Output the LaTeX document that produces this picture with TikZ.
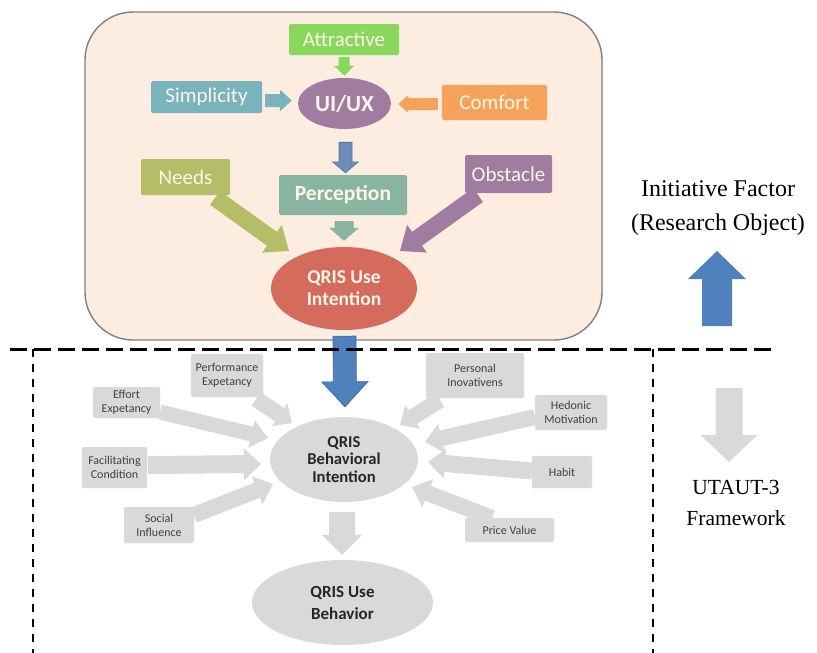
\documentclass[tikz,border=0pt]{standalone}
\usepackage{fontspec}
\setmainfont{Carlito}
\newfontfamily\labelserif{Liberation Serif}
\usetikzlibrary{calc,shapes.geometric}

\definecolor{panelfill}{HTML}{FDEDE1}
\definecolor{panelline}{HTML}{808080}
\definecolor{attrgreen}{HTML}{88D85B}
\definecolor{simpteal}{HTML}{79B3BC}
\definecolor{comforange}{HTML}{F7A25B}
\definecolor{uipurple}{HTML}{A07CA0}
\definecolor{steelarrow}{HTML}{6D8DB8}
\definecolor{percgreen}{HTML}{87B5A0}
\definecolor{needsolive}{HTML}{B4BE68}
\definecolor{intentred}{HTML}{D46B5C}
\definecolor{mainblue}{HTML}{4F81BD}
\definecolor{mainblueline}{HTML}{3F6E9F}
\definecolor{softgray}{HTML}{D9D9D9}
\definecolor{boxtext}{HTML}{FFF6E8}
\definecolor{graytext}{HTML}{404040}
\definecolor{darktext}{HTML}{262626}

% block arrow: from, tip, shaft half-width, head half-width, head length, style
\newcommand{\blockarrow}[6]{%
  \coordinate (ba-h) at ($(#2)!#5!(#1)$);
  \path[#6] ($(#1)!#3!90:(#2)$) -- ($(ba-h)!#3!90:(#2)$) -- ($(ba-h)!#4!90:(#2)$)
    -- (#2) -- ($(ba-h)!#4!-90:(#2)$) -- ($(ba-h)!#3!-90:(#2)$) -- ($(#1)!#3!-90:(#2)$) -- cycle;
}

\tikzset{
  factor/.style={rectangle, rounded corners=1.5pt, inner sep=0pt, text=boxtext,
    font=\fontsize{21}{24}\selectfont},
  core/.style={ellipse, inner sep=0pt, text=boxtext, align=center},
  utaut/.style={rectangle, rounded corners=2pt, fill=softgray, draw=softgray!70!white,
    inner sep=0pt, text=graytext, align=center, font=\fontsize{12}{14}\selectfont},
  utcore/.style={ellipse, fill=softgray, inner sep=0pt, text=darktext, align=center},
  grayarrow/.style={fill=softgray},
  sidelabel/.style={align=center, font=\labelserif, text=black},
}

\begin{document}
\begin{tikzpicture}[x=1pt,y=-1pt]
\useasboundingbox (0,0) rectangle (817,653);

% ---------- research object panel ----------
\node[draw=panelline, line width=1.4pt, fill=panelfill, rounded corners=48pt,
  minimum width=517pt, minimum height=328pt, inner sep=0pt] (panel) at (343.5,176) {};

\node[factor, fill=attrgreen, minimum width=110pt, minimum height=31pt] (attr) at (344,39.5) {Attractive};
\node[factor, fill=simpteal, minimum width=111pt, minimum height=32pt] (simp) at (206.5,97) {Simplicity};
\node[factor, fill=comforange, minimum width=105pt, minimum height=35pt] (comf) at (494.5,102.5) {Comfort};
\node[core, fill=uipurple, minimum width=93pt, minimum height=51pt,
  font=\bfseries\fontsize{23}{26}\selectfont] (uiux) at (344.5,103.5) {UI/UX};
\node[factor, fill=needsolive, minimum width=89pt, minimum height=36pt] (needs) at (185.5,177) {Needs};
\node[factor, fill=percgreen, minimum width=128pt, minimum height=40pt,
  font=\bfseries\fontsize{21.5}{24}\selectfont] (perc) at (343,195) {Perception};
\node[factor, fill=uipurple, minimum width=87pt, minimum height=38pt] (obst) at (508.5,174) {Obstacle};
\node[core, fill=intentred, minimum width=146pt, minimum height=83pt,
  font=\bfseries\fontsize{19.5}{22}\selectfont] (useint) at (344,288.5) {QRIS Use\\Intention};

% arrow ends
\coordinate (attr-s) at ($(attr.south)+(0,2)$);
\coordinate (uiux-n) at ($(uiux.north)+(0,-2)$);
\coordinate (simp-e) at ($(simp.east)+(3,3.5)$);
\coordinate (uiux-w) at ($(uiux.west)+(-6,-3)$);
\coordinate (comf-w) at ($(comf.west)+(-4,1.5)$);
\coordinate (uiux-e) at ($(uiux.east)+(7,0.5)$);
\coordinate (uiux-s) at ($(uiux.south)+(1,13)$);
\coordinate (perc-n) at ($(perc.north)+(2.5,-2)$);
\coordinate (perc-s) at ($(perc.south)+(1,6)$);
\coordinate (useint-n) at ($(useint.north)+(0,-6)$);
\coordinate (needs-s) at (215,198);
\coordinate (useint-nw) at (289,251);
\coordinate (obst-s) at (478,195);
\coordinate (useint-ne) at (400,251);

\blockarrow{attr-s}{uiux-n}{5.5pt}{10pt}{10pt}{fill=attrgreen}
\blockarrow{simp-e}{uiux-w}{6.5pt}{11pt}{12pt}{fill=simpteal}
\blockarrow{comf-w}{uiux-e}{6pt}{9pt}{10pt}{fill=comforange}
\blockarrow{uiux-s}{perc-n}{6.5pt}{13pt}{11pt}{fill=steelarrow, draw=steelarrow!80!black, line width=0.6pt}
\blockarrow{perc-s}{useint-n}{9.5pt}{15pt}{13pt}{fill=percgreen}
\blockarrow{needs-s}{useint-nw}{8.5pt}{17pt}{21pt}{fill=needsolive}
\blockarrow{obst-s}{useint-ne}{8.5pt}{17pt}{21pt}{fill=uipurple}

% ---------- UTAUT-3 framework ----------
\node[utaut, minimum width=72pt, minimum height=43pt] (perf) at (227,375.5) {Performance\\Expetancy};
\node[utaut, minimum width=67pt, minimum height=31pt] (effort) at (126.5,402.5) {Effort\\Expetancy};
\node[utaut, minimum width=65pt, minimum height=41pt] (facil) at (114.5,467.5) {Facilitating\\Condition};
\node[utaut, minimum width=70pt, minimum height=36pt] (social) at (159,525) {Social\\Influence};
\node[utaut, minimum width=98pt, minimum height=45pt] (pers) at (475,375.5) {Personal\\Inovativens};
\node[utaut, minimum width=72pt, minimum height=35pt] (hedon) at (571,412.5) {Hedonic\\Motivation};
\node[utaut, minimum width=60pt, minimum height=32pt] (habit) at (562,472) {Habit};
\node[utaut, minimum width=89pt, minimum height=24pt] (price) at (509.5,530) {Price Value};
\node[utcore, minimum width=148pt, minimum height=85pt,
  font=\bfseries\fontsize{16.6}{17.5}\selectfont] (bint) at (344,459.5) {QRIS\\Behavioral\\Intention};
\node[utcore, minimum width=181pt, minimum height=85pt,
  font=\bfseries\fontsize{17}{22}\selectfont] (ubeh) at (342.5,602.5) {QRIS Use\\Behavior};

\coordinate (perf-s) at (256,399);
\coordinate (bint-1) at (292,423);
\coordinate (effort-e) at (160,412);
\coordinate (bint-2) at (268,438);
\coordinate (facil-e) at (148,465);
\coordinate (bint-3) at (261,464);
\coordinate (social-e) at (194,515);
\coordinate (bint-4) at (273,484);
\coordinate (pers-s) at (440,400);
\coordinate (bint-5) at (400,425);
\coordinate (hedon-w) at (535,417);
\coordinate (bint-6) at (425,442);
\coordinate (habit-w) at (532,471);
\coordinate (bint-7) at (428,462);
\coordinate (price-n) at (492,518);
\coordinate (bint-8) at (412,487);
\coordinate (bint-s) at ($(ubeh.north)+(-0.5,-48)$);
\coordinate (ubeh-n) at ($(ubeh.north)+(-0.5,-5)$);

\blockarrow{perf-s}{bint-1}{8pt}{14pt}{15pt}{grayarrow}
\blockarrow{effort-e}{bint-2}{7.5pt}{14pt}{17pt}{grayarrow}
\blockarrow{facil-e}{bint-3}{9pt}{16pt}{17pt}{grayarrow}
\blockarrow{social-e}{bint-4}{8pt}{15pt}{17pt}{grayarrow}
\blockarrow{pers-s}{bint-5}{8pt}{14pt}{15pt}{grayarrow}
\blockarrow{hedon-w}{bint-6}{8pt}{15pt}{17pt}{grayarrow}
\blockarrow{habit-w}{bint-7}{8.5pt}{15pt}{17pt}{grayarrow}
\blockarrow{price-n}{bint-8}{8pt}{15pt}{17pt}{grayarrow}
\blockarrow{bint-s}{ubeh-n}{13pt}{20pt}{20pt}{grayarrow}

% ---------- boundary between the two parts ----------
\coordinate (sep-l) at (10,349);
\coordinate (sep-r) at (775,349);
\coordinate (frame-lt) at (33,349);
\coordinate (frame-lb) at (33,653);
\coordinate (frame-rt) at (653,349);
\coordinate (frame-rb) at (653,653);
\draw[line width=1.6pt, dash pattern=on 8pt off 7pt] (frame-lt) -- (frame-lb);
\draw[line width=1.6pt, dash pattern=on 8pt off 7pt] (frame-rt) -- (frame-rb);

% main link from the research object to the framework
\coordinate (link-top) at ($(useint.south)+(0.5,6)$);
\coordinate (link-tip) at ($(bint.north)+(1,-10)$);
\blockarrow{link-top}{link-tip}{11.5pt}{23pt}{25pt}{fill=mainblue, draw=mainblueline, line width=0.8pt}

\draw[line width=3pt, dash pattern=on 17pt off 7pt] (sep-l) -- (sep-r);

% ---------- side labels ----------
\node[sidelabel, font=\labelserif\fontsize{24}{34}\selectfont] (objlabel) at (718,208)
  {Initiative Factor\\(Research Object)};
\node[sidelabel, font=\labelserif\fontsize{21.5}{31}\selectfont] (fwlabel) at (736,503)
  {UTAUT-3\\Framework};

\coordinate (up-base) at (717,326);
\coordinate (up-tip) at (717,251);
\blockarrow{up-base}{up-tip}{15pt}{29pt}{28pt}{fill=mainblue}
\coordinate (down-base) at (729,388);
\coordinate (down-tip) at (729,462);
\blockarrow{down-base}{down-tip}{13.5pt}{28.5pt}{27pt}{grayarrow}

\end{tikzpicture}
\end{document}
